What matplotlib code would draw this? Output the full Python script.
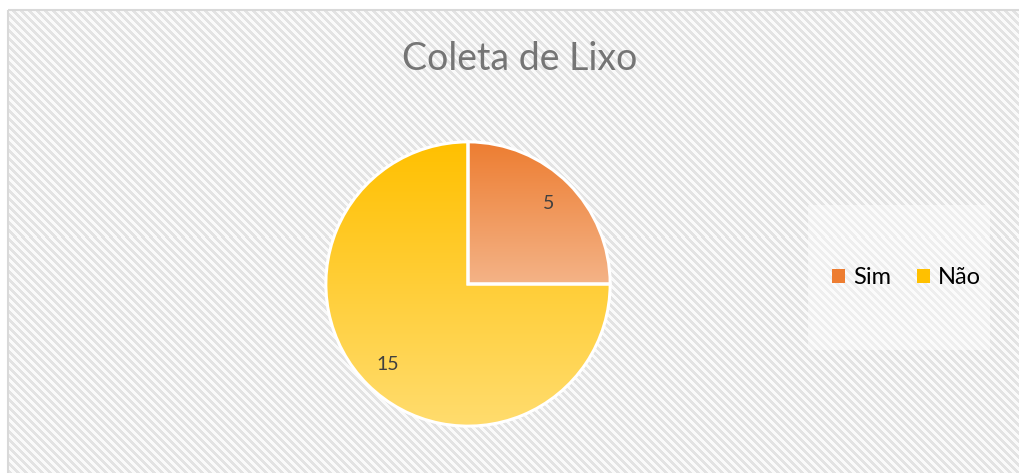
import numpy as np
import matplotlib
matplotlib.use('Agg')
import matplotlib.pyplot as plt
from matplotlib.colors import LinearSegmentedColormap
from matplotlib.patches import Rectangle, Patch

# data
labels = ['Sim', 'Não']
values = [5, 15]
top_colors = ['#ED7D31', '#FFC000']
bottom_colors = ['#F4B387', '#FFDC6E']
title = 'Coleta de Lixo'

plt.rcParams['font.family'] = ['Lato', 'DejaVu Sans']

W, H = 1019, 473
fig = plt.figure(figsize=(W / 100, H / 100), dpi=100)
fig.patch.set_facecolor('white')

# striped chart background
bg = fig.add_axes([0, 0, 1, 1])
yy, xx = np.mgrid[0:H, 0:W]
stripes = ((xx - yy) % 8) < 4
img = np.where(stripes, 0.89, 0.98)
img[:10, :] = 1.0
img[:, :8] = 1.0
bg.imshow(img, cmap='gray', vmin=0, vmax=1, extent=[0, W, H, 0], interpolation='nearest')
bg.add_patch(Rectangle((8, 10), W, H, fill=False, edgecolor='#D9D9D9', linewidth=1.5))
bg.set_xlim(0, W)
bg.set_ylim(H, 0)
bg.axis('off')

# pie
cx, cy, r = 468, 284, 145
ax = fig.add_axes([(cx - r) / W, (H - cy - r) / H, 2 * r / W, 2 * r / H])
wedges, texts, autotexts = ax.pie(values, startangle=90, counterclock=False, radius=1,
                                  autopct=lambda p: '%d' % round(p * sum(values) / 100),
                                  pctdistance=0.8,
                                  wedgeprops=dict(edgecolor='white', linewidth=2.2),
                                  textprops=dict(color='#404040', fontsize=14))
for w, c0, c1 in zip(wedges, top_colors, bottom_colors):
    ext = w.get_path().get_extents()
    cmap = LinearSegmentedColormap.from_list('g', [c1, c0])
    grad = np.linspace(0, 1, 256).reshape(-1, 1)
    im = ax.imshow(grad, cmap=cmap, origin='lower', aspect='auto',
                   extent=[ext.x0, ext.x1, ext.y0, ext.y1], zorder=w.get_zorder() - 0.1)
    im.set_clip_path(w)
    w.set_facecolor('none')
for t in autotexts:
    t.set_zorder(5)
ax.set_xlim(-1.02, 1.02)
ax.set_ylim(-1.02, 1.02)
ax.set_aspect('equal')
ax.axis('off')

fig.text(520 / W, 1 - 59 / H, title, ha='center', va='center', fontsize=27, color='#757575')

# legend
lbox = fig.add_axes([808 / W, (H - 350) / H, 182 / W, 145 / H])
lbox.set_facecolor((1, 1, 1, 0.4))
lbox.set_xticks([])
lbox.set_yticks([])
for s in lbox.spines.values():
    s.set_visible(False)
handles = [Patch(facecolor=c, edgecolor='none') for c in top_colors]
lbox.legend(handles, labels, loc='center', bbox_to_anchor=(0.54, 0.5), ncol=2, frameon=False,
            fontsize=17, handlelength=0.55, handleheight=0.55, handletextpad=0.35,
            columnspacing=1.1)

fig.savefig('out.png', dpi=100)
